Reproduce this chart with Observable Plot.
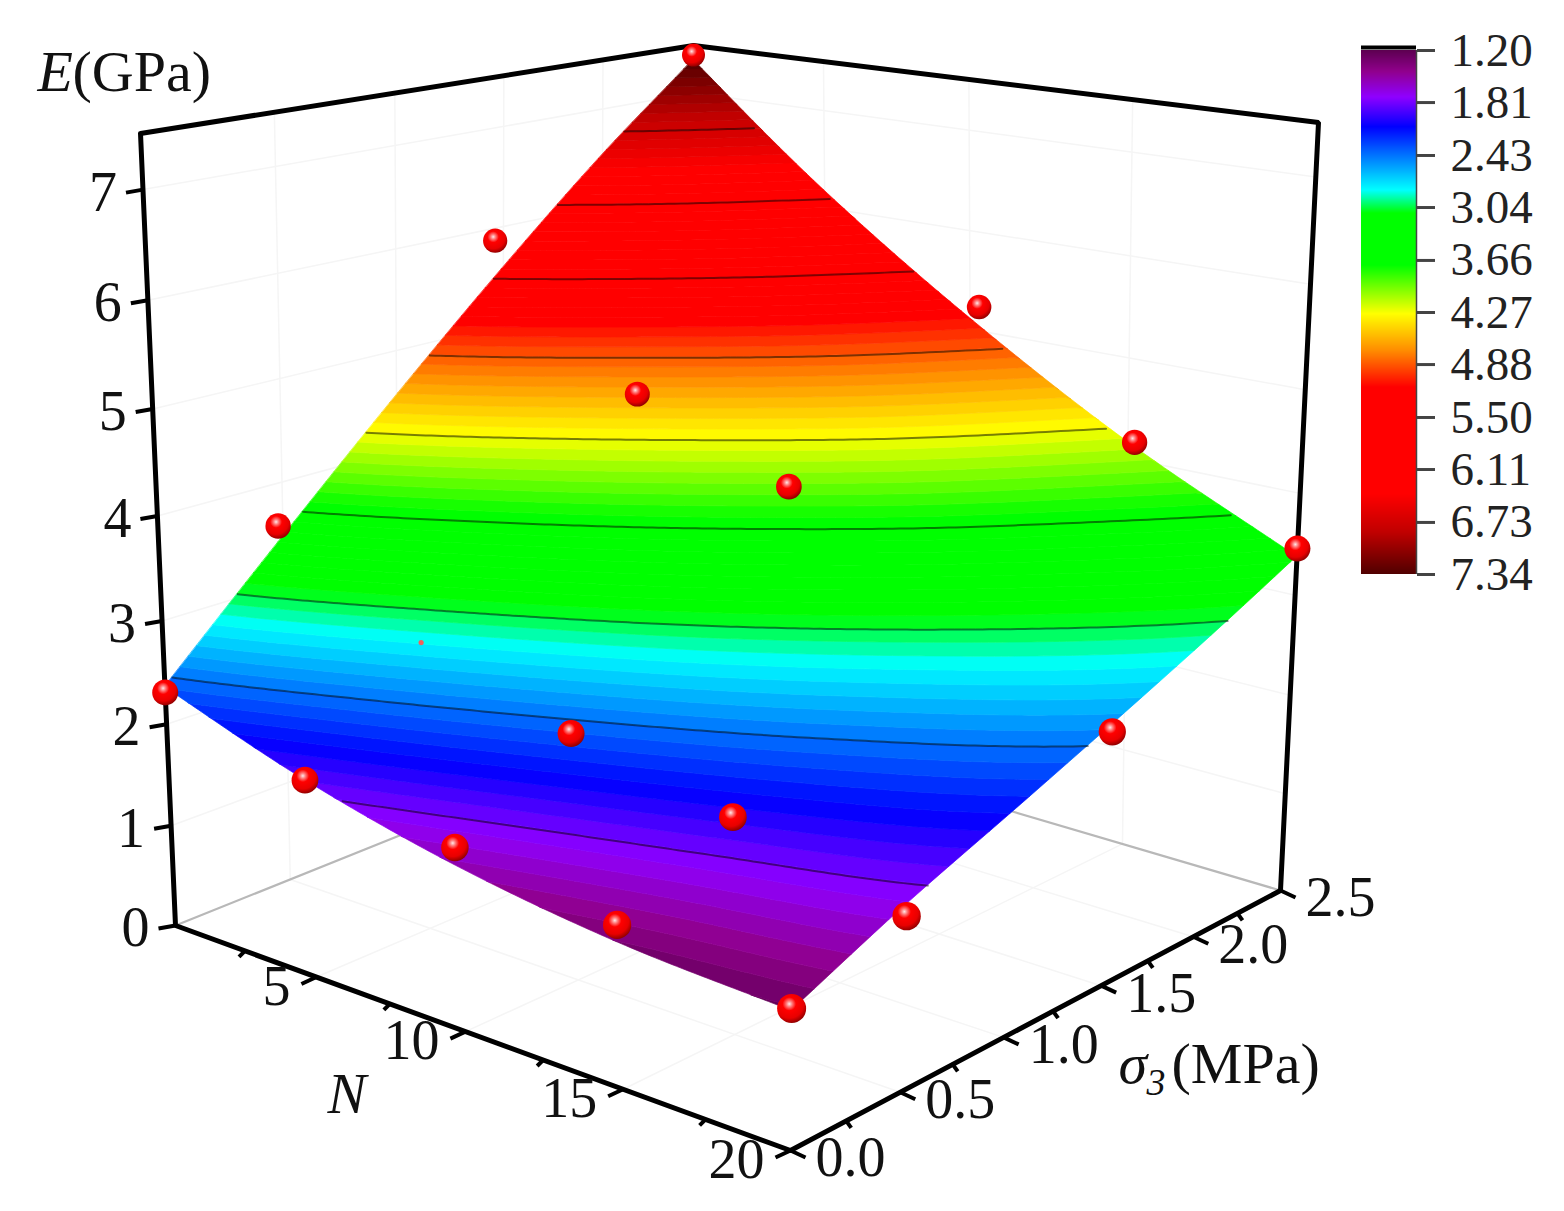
<!DOCTYPE html>
<html><head><meta charset="utf-8">
<style>html,body{margin:0;background:#fff}#wrap{position:relative;width:1564px;height:1211px;overflow:hidden}#main{position:absolute;left:0;top:0;width:1564px;height:1211px}#bar{position:absolute;left:1340px;top:0;width:224px;height:600px}#wrap svg{display:block;background:transparent}</style>
<script src="https://cdn.jsdelivr.net/npm/d3@7"></script>
<script src="https://cdn.jsdelivr.net/npm/@observablehq/plot@0.6"></script>
</head><body><div id="wrap"><div id="main"></div><div id="bar"></div></div>
<script>
// ---- data ----
const gridN = [0, 5, 10, 15, 20];
const gridS = [0, 0.5, 1, 1.5, 2, 2.5];
const surfaceE = [
  [2.36, 1.90, 1.56, 1.35, 1.26],
  [3.47, 2.83, 2.32, 1.96, 1.73],
  [4.56, 3.75, 3.08, 2.54, 2.14],
  [5.59, 4.62, 3.79, 3.10, 2.55],
  [6.53, 5.46, 4.50, 3.64, 2.96],
  [7.35, 6.18, 5.12, 4.17, 3.38]
];
const pointsOver = [ // N, sigma3, E
  [0,0,2.31],[5,0,1.90],[10,0,1.73],[15,0,1.51],[20,0,1.28],
  [0,0.48,3.59],[10,0.5,2.37],[15,0.5,2.04],[20,0.5,1.62],
  [0,1.46,5.88],[5,1.5,4.60],[10,1.52,4.00],[20,1.48,2.46],
  [0,2.5,7.40],[10.3,2.5,5.25],[15.2,2.5,4.18],[20,2.5,3.46]
];
const pointsPeek = [[5,0.5,2.82]];
const colorTicks = [1.20,1.81,2.43,3.04,3.66,4.27,4.88,5.50,6.11,6.73,7.34];
const colorStops = [1.20,1.45,1.75,2.10,2.84,3.11,3.72,4.29,4.72,5.15,6.40,6.85,7.34];
const colorRange = ["#5c0050","#90008c","#8f00ff","#0000ff","#00ffff","#00ff00","#00ff00","#ffff00","#ff8c00","#ff0000","#ff0000","#c00000","#500000"];
const ticksE = [0,1,2,3,4,5,6,7];
const ticksN = [5,10,15,20];
const minorN = [2.5,7.5,12.5,17.5];
const ticksS = [0,0.5,1,1.5,2,2.5];
const minorS = [0.25,0.75,1.25,1.75,2.25];
const domN = [0,20], domS = [0,2.5], domE = [0,7.5];

// ---- view: where the eight corners of the box fall ----
const cornersFloor = [[175,925],[790,1150],[1280,890],[693,717]];
const cornersTop   = [[140,133],[797,272],[1318,122],[693,45]];
const persp = -0.063;
function homography(q){
  const [[x0,y0],[x1,y1],[x2,y2],[x3,y3]] = q;
  const dx1=x1-x2,dx2=x3-x2,sx=x0-x1+x2-x3,dy1=y1-y2,dy2=y3-y2,sy=y0-y1+y2-y3,den=dx1*dy2-dx2*dy1;
  const g=(sx*dy2-dx2*sy)/den,h=(dx1*sy-sx*dy1)/den;
  const a=x1-x0+g*x1,b=x3-x0+h*x3,d=y1-y0+g*y1,e=y3-y0+h*y3;
  return (u,v)=>{const t=g*u+h*v+1;return [(a*u+b*v+x0)/t,(d*u+e*v+y0)/t];};
}
const hFloor = homography(cornersFloor), hTop = homography(cornersTop);
function P(N,S,E){
  const u=N/domN[1], v=S/domS[1], w=E/domE[1];
  const t=w*(1+persp)/(1+persp*w);
  const a=hFloor(u,v), b=hTop(u,v);
  return [a[0]+(b[0]-a[0])*t, a[1]+(b[1]-a[1])*t];
}
const px = d=>P(d[0],d[1],d[2])[0], py = d=>P(d[0],d[1],d[2])[1];

// ---- smooth reading of the surface table for drawing ----
function cr(xs,ys,x){
  const n=xs.length; let i=Math.min(n-2,Math.max(0,d3.bisectRight(xs,x)-1));
  const h=xs[i+1]-xs[i], t=(x-xs[i])/h;
  const y0=ys[Math.max(0,i-1)],y1=ys[i],y2=ys[i+1],y3=ys[Math.min(n-1,i+2)];
  const m1=i>0?(y2-y0)/2:(y2-y1), m2=i<n-2?(y3-y1)/2:(y2-y1);
  const t2=t*t,t3=t2*t;
  return (2*t3-3*t2+1)*y1+(t3-2*t2+t)*m1+(-2*t3+3*t2)*y2+(t3-t2)*m2;
}
const rowsAt = N => surfaceE.map(r=>cr(gridN,r,N));
function sigmaAt(col,L){
  if(L<=cr(gridS,col,0)) return 0;
  if(L>=cr(gridS,col,2.5)) return 2.5;
  let lo=0,hi=2.5;
  for(let i=0;i<30;i++){const m=(lo+hi)/2; if(cr(gridS,col,m)<L) lo=m; else hi=m;}
  return (lo+hi)/2;
}
const sampleN = d3.range(0,20.0001,0.125);
const step = (7.34-1.20)/80;
const bandRows = [];
d3.range(0,81).forEach(k=>{
  const L0=1.20+k*step, L1=k==80?9:L0+step;
  const rows=sampleN.map(N=>{
    const col=rowsAt(N), s0=sigmaAt(col,L0), s1=sigmaAt(col,L1);
    const a=P(N,s0,cr(gridS,col,s0)), b=P(N,s1,cr(gridS,col,s1));
    return {k,level:L0+step/2,w:s1-s0,x1:a[0],y1:a[1],x2:b[0],y2:b[1]};
  });
  rows.forEach((r,i)=>{
    if(r.w>0||(rows[i-1]&&rows[i-1].w>0)||(rows[i+1]&&rows[i+1].w>0)) bandRows.push(r);
  });
});
const isoRows = [];
colorTicks.slice(1,-1).forEach(L=>{
  sampleN.forEach(N=>{
    const col=rowsAt(N);
    if(L<cr(gridS,col,0)||L>cr(gridS,col,2.5)) return;
    isoRows.push({L,p:P(N,sigmaAt(col,L),L)});
  });
});

// ---- box, grids, ticks ----
const [N0,N1]=domN,[S0,S1]=domS,[E0,E1]=domE;
const frame=[[N0,S0,E1],[N0,S0,E0],[N1,S0,E0],[N1,S1,E0],[N1,S1,E1],[N0,S1,E1],[N0,S0,E1]];
const backBase=[[N0,S0,E0],[N0,S1,E0],[N1,S1,E0]];
const seg=(a,b)=>({a,b});
const grid=[
  ...[5,10,15].map(n=>seg([n,S0,E0],[n,S1,E0])),
  ...[0.5,1,1.5,2].map(s=>seg([N0,s,E0],[N1,s,E0])),
  ...ticksE.slice(1).flatMap(e=>[seg([N0,S0,e],[N0,S1,e]),seg([N0,S1,e],[N1,S1,e])]),
  ...[0.5,1,1.5,2].map(s=>seg([N0,s,E0],[N0,s,E1])),
  ...[5,10,15].map(n=>seg([n,S1,E0],[n,S1,E1]))
];
const tickSegs=[
  ...ticksE.map(e=>({p:P(N0,S0,e),d:[-17,3]})),
  ...ticksN.map(n=>({p:P(n,S0,E0),d:[-15,7]})),
  ...minorN.map(n=>({p:P(n,S0,E0),d:[-6,6]})),
  ...ticksS.map(s=>({p:P(N1,s,E0),d:[15,7]})),
  ...minorS.map(s=>({p:P(N1,s,E0),d:[5,7]}))
];
const serif="'Liberation Serif','Times New Roman',serif";
const tickFont={fontFamily:serif,fontSize:56,fill:"#111",lineAnchor:"middle"};
const rOf=d=>11.5+3*((d[0]/N1)+1-(d[1]/S1))/2;
const labelsPlain=[{t:"(GPa)",x:72,y:72},{t:"(MPa)",x:1171,y:1064}];
const labelsItalic=[{t:"E",x:37,y:72},{t:"N",x:327,y:1094},{t:"σ",x:1118,y:1064}];
const labelsSub=[{t:"3",x:1146,y:1082}];

const chart=Plot.plot({
  width:1564,height:1211,margin:0,
  x:{domain:[0,1564],range:[0,1564],axis:null},
  y:{domain:[0,1211],range:[0,1211],axis:null},
  r:{type:"identity"},
  color:{type:"linear",domain:colorStops,range:colorRange,interpolate:"rgb",clamp:true},
  style:{background:"transparent"},
  marks:[
    Plot.link(grid,{x1:d=>px(d.a),y1:d=>py(d.a),x2:d=>px(d.b),y2:d=>py(d.b),stroke:"#f5f5f5",strokeWidth:1.5}),
    Plot.line(backBase,{x:px,y:py,stroke:"#b8b8b8",strokeWidth:2.2}),
    Plot.area(bandRows,{x1:"x1",y1:"y1",x2:"x2",y2:"y2",z:"k",fill:"level",stroke:"level",strokeWidth:0.7}),
    Plot.line(isoRows,{x:d=>d.p[0],y:d=>d.p[1],z:"L",stroke:"#000",strokeOpacity:0.5,strokeWidth:2}),
    Plot.line(frame,{x:px,y:py,stroke:"#000",strokeWidth:5,strokeLinejoin:"miter"}),
    Plot.link(tickSegs,{x1:d=>d.p[0],y1:d=>d.p[1],x2:d=>d.p[0]+d.d[0],y2:d=>d.p[1]+d.d[1],stroke:"#000",strokeWidth:4}),
    Plot.dot(pointsPeek,{x:px,y:py,r:2.6,fill:"#f2605c"}),
    Plot.dot(pointsOver,{x:px,y:py,r:rOf,fill:"url(#ball)"}),
    Plot.text(ticksE,{x:e=>P(N0,S0,e)[0],y:e=>P(N0,S0,e)[1]+3,text:e=>String(e),textAnchor:"end",dx:-26,...tickFont}),
    Plot.text(ticksN,{x:n=>P(n,S0,E0)[0],y:n=>P(n,S0,E0)[1],text:n=>String(n),textAnchor:"end",dx:-26,dy:10,...tickFont}),
    Plot.text(ticksS,{x:s=>P(N1,s,E0)[0],y:s=>P(N1,s,E0)[1],text:s=>s.toFixed(1),textAnchor:"start",dx:25,dy:8,...tickFont}),
    Plot.text(labelsPlain,{x:"x",y:"y",text:"t",textAnchor:"start",fontFamily:serif,fontSize:58,fill:"#111",lineAnchor:"middle"}),
    Plot.text(labelsItalic,{x:"x",y:"y",text:"t",textAnchor:"start",fontFamily:serif,fontSize:58,fontStyle:"italic",fill:"#111",lineAnchor:"middle"}),
    Plot.text(labelsSub,{x:"x",y:"y",text:"t",textAnchor:"start",fontFamily:serif,fontSize:38,fontStyle:"italic",fill:"#111",lineAnchor:"middle"})
  ]
});
d3.select(chart).append("defs").html(`<radialGradient id="ball" cx="0.42" cy="0.34" r="0.68">
<stop offset="0" stop-color="#ffe8e8"/><stop offset="0.14" stop-color="#ff8080"/><stop offset="0.34" stop-color="#ff0000"/>
<stop offset="0.72" stop-color="#e80000"/><stop offset="1" stop-color="#8a0000"/></radialGradient>`);
document.getElementById("main").appendChild(chart);

// ---- colour bar ----
const barRows=d3.range(0,524).map(i=>{const a=1.20+i*(7.34-1.20)/524,b=a+(7.34-1.20)/524;return {a,b,m:(a+b)/2};});
const bar=Plot.plot({
  width:224,height:600,margin:0,
  x:{domain:[0,1],range:[21,76],axis:null},
  y:{domain:[1.20,7.34],range:[50,574],axis:null},
  color:{type:"linear",domain:colorStops,range:colorRange,interpolate:"rgb",clamp:true},
  style:{background:"transparent"},
  marks:[
    Plot.rect(barRows,{x1:0,x2:1,y1:"a",y2:"b",fill:"m",shapeRendering:"crispEdges"}),
    Plot.ruleX([1],{y1:1.20,y2:7.34,stroke:"#444",strokeWidth:1.5}),
    Plot.ruleY([1.20],{x1:0,x2:1,stroke:"#000",strokeWidth:4,dy:-3}),
    Plot.axisY(colorTicks,{anchor:"right",x:1,tickSize:18,tickPadding:16,tickFormat:d3.format(".2f"),fontSize:47,fontFamily:serif,stroke:"#444",strokeWidth:3,fill:"#222"})
  ]
});
document.getElementById("bar").appendChild(bar);
</script></body></html>
